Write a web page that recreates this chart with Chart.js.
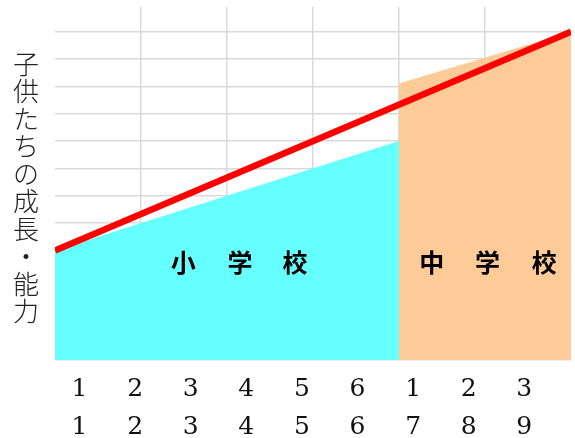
<!DOCTYPE html>
<html>
<head>
<meta charset="utf-8">
<script src="https://cdn.jsdelivr.net/npm/chart.js@4"></script>
<style>
  html, body { margin: 0; padding: 0; background: #fff; }
  #wrap { width: 575px; height: 438px; }
</style>
</head>
<body>
<div id="wrap"><canvas id="growthChart" width="575" height="438"></canvas></div>
<script>
// data
const elemX = [0, 4];          // 小学校 span (grid units)
const elemY = [4, 8];
const juniorX = [4, 6];        // 中学校 span
const juniorY = [10.1, 12];
const growthX = [0, 6];        // red trend line
const growthY = [4, 12];
const gradeLabels = ['1', '2', '3', '4', '5', '6', '1', '2', '3'];
const yearLabels = ['1', '2', '3', '4', '5', '6', '7', '8', '9'];
const axisTitle = '子供たちの成長・能力';

const toPoints = (xs, ys) => xs.map((x, i) => ({ x: x, y: ys[i] }));

// vertical y title + school names inside the areas
const textPlugin = {
  id: 'texts',
  afterDatasetsDraw(chart) {
    const ctx = chart.ctx;
    const xs = chart.scales.x, ys = chart.scales.y;
    ctx.save();
    ctx.fillStyle = '#000';
    ctx.font = 'bold 25px "Noto Sans CJK JP"';
    ctx.textAlign = 'center';
    ctx.textBaseline = 'middle';
    const yy = ys.getPixelForValue(3.55);
    [['小', 1.49], ['学', 2.15], ['校', 2.79], ['中', 4.38], ['学', 5.03], ['校', 5.69]]
      .forEach(([ch, v]) => ctx.fillText(ch, xs.getPixelForValue(v), yy));

    ctx.fillStyle = '#222';
    ctx.font = '300 26px "Noto Sans CJK JP"';
    [...axisTitle].forEach((ch, i) => ctx.fillText(ch, 26, 64 + i * 27.5));
    ctx.restore();
  }
};

new Chart(document.getElementById('growthChart'), {
  type: 'line',
  data: {
    datasets: [
      {
        label: 'growth',
        data: toPoints(growthX, growthY),
        borderColor: '#ff0000',
        borderWidth: 6.5,
        pointRadius: 0,
        fill: false
      },
      {
        label: 'elementary',
        data: toPoints(elemX, elemY),
        borderWidth: 0,
        pointRadius: 0,
        backgroundColor: '#66ffff',
        fill: 'origin'
      },
      {
        label: 'junior',
        data: toPoints(juniorX, juniorY),
        borderWidth: 0,
        pointRadius: 0,
        backgroundColor: '#fdcb98',
        fill: 'origin'
      }
    ]
  },
  options: {
    responsive: false,
    animation: false,
    layout: { padding: { left: 55, top: 7, right: 4, bottom: 0 } },
    plugins: { legend: { display: false }, tooltip: { enabled: false } },
    scales: {
      x: {
        type: 'linear',
        min: 0,
        max: 6,
        position: 'bottom',
        ticks: { display: false, stepSize: 1 },
        grid: {
          drawTicks: false,
          lineWidth: 1.5,
          color: (c) => (c.tick && c.tick.value > 0 && c.tick.value < 6) ? '#d9d9d9' : 'rgba(0,0,0,0)'
        },
        border: { display: false },
        afterFit: (s) => { s.height = 0; }
      },
      xl: {
        type: 'linear',
        min: 0.559,
        max: 9.84,
        position: 'bottom',
        grid: { display: false, drawTicks: false },
        border: { display: false },
        afterBuildTicks: (s) => { s.ticks = yearLabels.map((_, i) => ({ value: i + 1 })); },
        ticks: {
          autoSkip: false,
          maxRotation: 0,
          padding: 11,
          color: '#111',
          font: { family: '"DejaVu Serif"', size: 25, lineHeight: 1.5 },
          callback: (v) => [gradeLabels[v - 1], yearLabels[v - 1]]
        },
        afterFit: (s) => { s.height = 78; }
      },
      y: {
        min: 0,
        max: 12.9,
        ticks: { display: false, stepSize: 1 },
        afterBuildTicks: (s) => { s.ticks = s.ticks.filter(t => Number.isInteger(t.value)); },
        grid: { drawTicks: false, lineWidth: 1.5, color: '#d9d9d9' },
        border: { display: false },
        afterFit: (s) => { s.width = 0; }
      }
    }
  },
  plugins: [textPlugin]
});
</script>
</body>
</html>
